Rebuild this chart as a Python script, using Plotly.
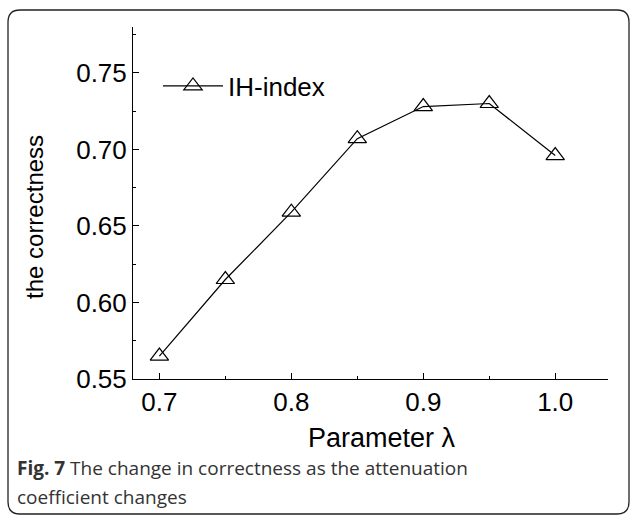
import plotly.graph_objects as go

# ---- data ----
lambda_vals = [0.70, 0.75, 0.80, 0.85, 0.90, 0.95, 1.00]
correctness = [0.565, 0.615, 0.659, 0.707, 0.728, 0.730, 0.696]
series_name = "IH-index"
x_tick_vals = [0.7, 0.8, 0.9, 1.0]
x_tick_text = ["0.7", "0.8", "0.9", "1.0"]
y_tick_vals = [0.55, 0.60, 0.65, 0.70, 0.75]
y_tick_text = ["0.55", "0.60", "0.65", "0.70", "0.75"]

W, H = 630, 517
ML, MR, MT, MB = 133, 22, 27, 138
PW, PH = W - ML - MR, H - MT - MB

def px(x):
    return (x - ML) / PW

def py(y):
    return (H - MB - y) / PH

FONT = "Liberation Sans, Arial, sans-serif"

fig = go.Figure()
fig.add_trace(go.Scatter(
    x=lambda_vals, y=correctness, name=series_name, mode="lines+markers",
    line=dict(color="black", width=1.2),
    marker=dict(symbol="triangle-up-open", size=16, color="black",
                line=dict(width=1.2, color="black")),
))

# rounded frame
L, T, R, B, r = 8, 10, 629, 514, 12
path = (f"M {px(L+r)},{py(T)} L {px(R-r)},{py(T)} Q {px(R)},{py(T)} {px(R)},{py(T+r)} "
        f"L {px(R)},{py(B-r)} Q {px(R)},{py(B)} {px(R-r)},{py(B)} "
        f"L {px(L+r)},{py(B)} Q {px(L)},{py(B)} {px(L)},{py(B-r)} "
        f"L {px(L)},{py(T+r)} Q {px(L)},{py(T)} {px(L+r)},{py(T)} Z")
fig.add_shape(type="path", path=path, xref="paper", yref="paper",
              line=dict(color="#222222", width=1.3), fillcolor="rgba(0,0,0,0)")

# axis titles
fig.add_annotation(text="Parameter λ", x=px(382), y=py(438), xref="paper", yref="paper",
                   xanchor="center", yanchor="middle", showarrow=False,
                   font=dict(family=FONT, size=27, color="black"))
fig.add_annotation(text="the correctness", x=px(34), y=py(217), xref="paper", yref="paper",
                   xanchor="center", yanchor="middle", showarrow=False, textangle=-90,
                   font=dict(family=FONT, size=24, color="black"))

fig.add_annotation(text="<b>Fig. 7</b> The change in correctness as the attenuation",
                   x=px(15), y=py(468), xref="paper", yref="paper",
                   xanchor="left", yanchor="middle", showarrow=False,
                   font=dict(family="Open Sans, sans-serif", size=19, color="#333333"))
fig.add_annotation(text="coefficient changes",
                   x=px(15), y=py(497), xref="paper", yref="paper",
                   xanchor="left", yanchor="middle", showarrow=False,
                   font=dict(family="Open Sans, sans-serif", size=19, color="#333333"))

fig.update_layout(
    width=W, height=H,
    margin=dict(l=ML, r=MR, t=MT, b=MB, autoexpand=False),
    paper_bgcolor="white", plot_bgcolor="white",
    font=dict(family=FONT, color="black", size=26),
    showlegend=True,
    legend=dict(x=px(158), y=py(86), xanchor="left", yanchor="middle",
                bgcolor="rgba(0,0,0,0)", font=dict(size=26), itemwidth=60),
    xaxis=dict(range=[0.68, 1.04], tickvals=x_tick_vals, ticktext=x_tick_text,
               ticks="inside", ticklen=6, tickwidth=1, tickcolor="black",
               minor=dict(dtick=0.05, tick0=0.7, ticks="inside", ticklen=3, tickcolor="black"),
               showline=True, linecolor="black", linewidth=1, showgrid=False,
               zeroline=False, tickfont=dict(size=26), automargin=False),
    yaxis=dict(range=[0.55, 0.78], tickvals=y_tick_vals, ticktext=y_tick_text,
               ticks="inside", ticklen=6, tickwidth=1, tickcolor="black",
               minor=dict(dtick=0.025, tick0=0.55, ticks="inside", ticklen=3, tickcolor="black"),
               showline=True, linecolor="black", linewidth=1, showgrid=False,
               zeroline=False, tickfont=dict(size=26), automargin=False),
)

fig.write_html("out.html")
